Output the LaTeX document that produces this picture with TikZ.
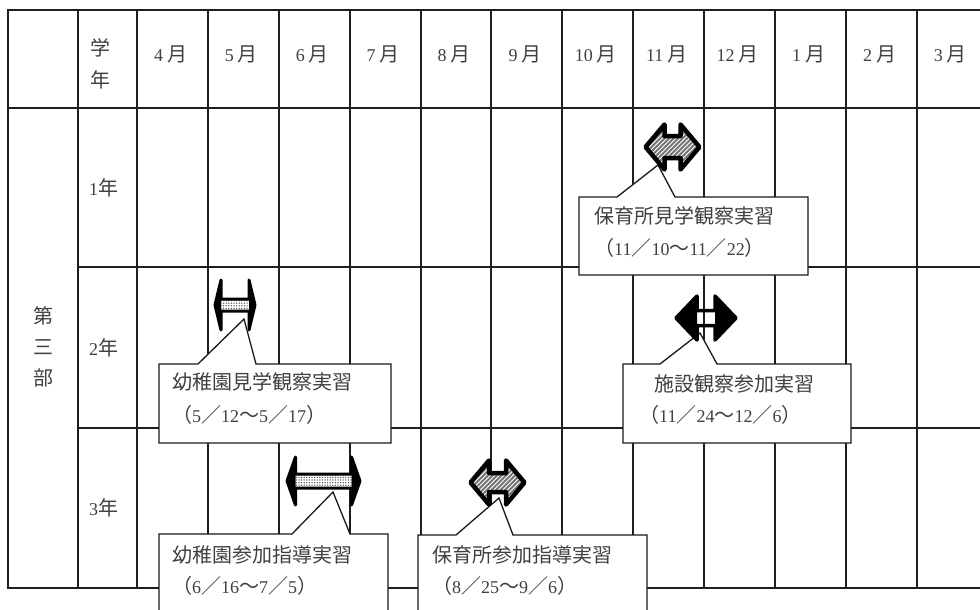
\documentclass[tikz,border=0pt]{standalone}
\usepackage{fontspec}
\setmainfont{Liberation Serif}
\newfontfamily\cjkfont{Noto Sans CJK JP}
\usetikzlibrary{patterns.meta}
\newcommand\jp[1]{{\fontsize{20}{24}\selectfont\cjkfont #1}}
\newcommand\dap[6]{(#1,#3) -- ({#1+#6},{#3-#4}) -- ({#1+#6},{#3-#5}) -- ({#2-#6},{#3-#5}) -- ({#2-#6},{#3-#4}) -- (#2,#3) -- ({#2-#6},{#3+#4}) -- ({#2-#6},{#3+#5}) -- ({#1+#6},{#3+#5}) -- ({#1+#6},{#3+#4}) -- cycle}
\newcommand\hatcharrow[6]{%
  \begin{scope}
    \clip \dap{#1}{#2}{#3}{#4}{#5}{#6};
    \fill[white] ({#1-5},{#3-30}) rectangle ({#2+5},{#3+30});
    \foreach \k in {0,...,32} \draw[black!55,line width=2pt] ({#1-60+4.5*\k},{#3+30}) -- ++(60,-60);
  \end{scope}
  \draw[arw,line width=4.5pt] \dap{#1}{#2}{#3}{#4}{#5}{#6};
}
\newcommand\dotarrow[6]{%
  \draw[arw,line width=3pt,dotfill] \dap{#1}{#2}{#3}{#4}{#5}{#6};
  \fill[black] (#1,#3) -- ({#1+#6},{#3-#4}) -- ({#1+#6},{#3+#4}) -- cycle;
  \fill[black] (#2,#3) -- ({#2-#6},{#3-#4}) -- ({#2-#6},{#3+#4}) -- cycle;
}
\tikzset{
  grid/.style={line width=2pt, draw=black!88, line cap=rect},
  lbl/.style={inner sep=0pt, text=black!75, font=\fontsize{18}{22}\selectfont},
  callout/.style={draw=black!90, line width=1.3pt, fill=white, line join=miter},
  arw/.style={draw=black, line width=3.5pt, line join=round},
  dotfill/.style={preaction={fill=white}, preaction={pattern={Dots[radius=0.75pt,distance=2.6pt]}, pattern color=black!65}},
}
\begin{document}
\begin{tikzpicture}[x=1pt,y=-1pt]
\useasboundingbox (0,0) rectangle (980,610);
\fill[white] (0,0) rectangle (980,610);
% grid
\draw[grid] (8,10) -- (990,10);
\draw[grid] (8,108) -- (990,108);
\draw[grid] (78,267) -- (990,267);
\draw[grid] (78,428) -- (990,428);
\draw[grid] (8,588) -- (990,588);
\draw[grid] (8,10) -- (8,588);
\draw[grid] (78,10) -- (78,588);
\foreach \i in {0,...,12} \draw[grid] ({137+round(70.9*\i)},10) -- ({137+round(70.9*\i)},588);
% header
\node[lbl] (h1) at (100,48) {\jp{学}};
\node[lbl] (h2) at (100,80) {\jp{年}};
\foreach \m [count=\i from 0] in {4,5,6,7,8,9,10,11,12,1,2,3}
  \node[lbl] (m\i) at ({170.5+70.9*\i},54) {\m\hspace{4pt}\jp{月}};
% left column
\node[lbl] (d1) at (43,316) {\jp{第}};
\node[lbl] (d2) at (43,347) {\jp{三}};
\node[lbl] (d3) at (43,378) {\jp{部}};
\node[lbl,anchor=west] (r1) at (89,188) {1\jp{年}};
\node[lbl,anchor=west] (r2) at (89,348) {2\jp{年}};
\node[lbl,anchor=west] (r3) at (89,508) {3\jp{年}};
% callouts
\draw[callout] (579,197) -- (617,197) -- (658,165) -- (675,197) -- (808,197) -- (808,275) -- (579,275) -- cycle;
\draw[callout] (159,364) -- (198,364) -- (244,319) -- (256,364) -- (391,364) -- (391,443) -- (159,443) -- cycle;
\draw[callout] (623,364) -- (660,364) -- (700,333) -- (717,364) -- (851,364) -- (851,443) -- (623,443) -- cycle;
\draw[callout] (159,534) -- (292,534) -- (333,492) -- (350,534) -- (388,534) -- (388,620) -- (159,620) -- cycle;
\draw[callout] (418,535) -- (456,535) -- (499,498) -- (513,535) -- (647,535) -- (647,620) -- (418,620) -- cycle;
% callout texts
\node[lbl,anchor=west] (c1a) at (594,216) {\jp{保育所見学観察実習}};
\node[lbl,anchor=west] (c1b) at (594,248) {\jp{（}11\jp{／}10\jp{～}11\jp{／}22\jp{）}};
\node[lbl,anchor=west] (c2a) at (172,382) {\jp{幼稚園見学観察実習}};
\node[lbl,anchor=west] (c2b) at (172,415) {\jp{（}5\jp{／}12\jp{～}5\jp{／}17\jp{）}};
\node[lbl,anchor=west] (c3a) at (654,384) {\jp{施設観察参加実習}};
\node[lbl,anchor=west] (c3b) at (639,415) {\jp{（}11\jp{／}24\jp{～}12\jp{／}6\jp{）}};
\node[lbl,anchor=west] (c4a) at (172,555) {\jp{幼稚園参加指導実習}};
\node[lbl,anchor=west] (c4b) at (172,586) {\jp{（}6\jp{／}16\jp{～}7\jp{／}5\jp{）}};
\node[lbl,anchor=west] (c5a) at (432,555) {\jp{保育所参加指導実習}};
\node[lbl,anchor=west] (c5b) at (432,586) {\jp{（}8\jp{／}25\jp{～}9\jp{／}6\jp{）}};
% arrows
\hatcharrow{645.5}{699.5}{147}{22.5}{11}{19}
\dotarrow{215}{255}{305}{25}{6}{6}
\fill[black] (676,318) -- (697,296) -- (697,340) -- cycle;
\fill[black] (736,318) -- (715,296) -- (715,340) -- cycle;
\draw[arw] \dap{676}{736}{318}{22}{7.5}{21};
\dotarrow{287}{360}{481}{24}{7}{8.5}
\hatcharrow{470.5}{524.5}{482.5}{22}{9.5}{18.5}
\end{tikzpicture}
\end{document}
